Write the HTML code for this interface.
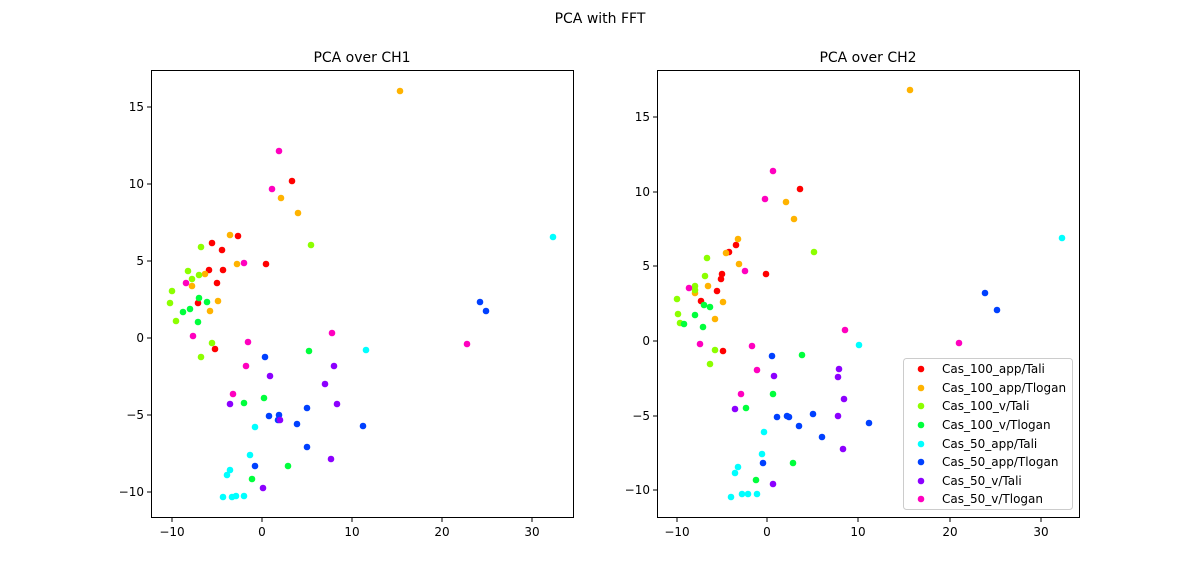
<!DOCTYPE html>
<html><head><meta charset="utf-8"><style>body{margin:0;background:#fff}svg{display:block;font-family:"DejaVu Sans","Liberation Sans",sans-serif}</style></head><body>
<svg width="1200" height="582" viewBox="0 0 1200 582" xmlns="http://www.w3.org/2000/svg">
<rect width="1200" height="582" fill="#fff"/>
<text x="600" y="23" font-size="14" text-anchor="middle">PCA with FFT</text>
<text x="362" y="62" font-size="14" text-anchor="middle">PCA over CH1</text>
<text x="868" y="62" font-size="14" text-anchor="middle">PCA over CH2</text>
<g fill="none" stroke="#000" stroke-width="1">
<rect x="151.5" y="70.5" width="422" height="447"/>
<rect x="657.5" y="70.5" width="422" height="447"/>
<path d="M172 518v4M262 518v4M352 518v4M442 518v4M532 518v4M151 107h-4M151 184h-4M151 261h-4M151 338h-4M151 415h-4M151 492h-4"/>
<path d="M677 518v4M767 518v4M858 518v4M950 518v4M1041 518v4M657 117h-4M657 192h-4M657 266h-4M657 341h-4M657 416h-4M657 490h-4"/>
</g>
<g font-size="12" text-anchor="middle">
<text x="172" y="536">−10</text><text x="262" y="536">0</text><text x="352" y="536">10</text><text x="442" y="536">20</text><text x="532" y="536">30</text>
<text x="677" y="536">−10</text><text x="767" y="536">0</text><text x="858" y="536">10</text><text x="950" y="536">20</text><text x="1041" y="536">30</text>
</g>
<g font-size="12" text-anchor="end">
<text x="144" y="111">15</text><text x="144" y="188">10</text><text x="144" y="265">5</text><text x="144" y="342">0</text><text x="144" y="419">−5</text><text x="144" y="496">−10</text>
<text x="650" y="121">15</text><text x="650" y="196">10</text><text x="650" y="270">5</text><text x="650" y="345">0</text><text x="650" y="420">−5</text><text x="650" y="494">−10</text>
</g>
<g id="pts">
<g fill="#ff0000"><circle cx="292" cy="181" r="3.3"/><circle cx="238" cy="236" r="3.3"/><circle cx="212" cy="243" r="3.3"/><circle cx="222" cy="250" r="3.3"/><circle cx="266" cy="264" r="3.3"/><circle cx="209" cy="270" r="3.3"/><circle cx="223" cy="270" r="3.3"/><circle cx="217" cy="283" r="3.3"/><circle cx="198" cy="303" r="3.3"/><circle cx="215" cy="349" r="3.3"/>
<circle cx="800" cy="189" r="3.3"/><circle cx="736" cy="245" r="3.3"/><circle cx="729" cy="252" r="3.3"/><circle cx="722" cy="274" r="3.3"/><circle cx="721" cy="279" r="3.3"/><circle cx="766" cy="274" r="3.3"/><circle cx="717" cy="291" r="3.3"/><circle cx="701" cy="301" r="3.3"/><circle cx="723" cy="351" r="3.3"/></g>
<g fill="#ffb300"><circle cx="400" cy="91" r="3.3"/><circle cx="281" cy="198" r="3.3"/><circle cx="298" cy="213" r="3.3"/><circle cx="230" cy="235" r="3.3"/><circle cx="237" cy="264" r="3.3"/><circle cx="205" cy="274" r="3.3"/><circle cx="192" cy="286" r="3.3"/><circle cx="218" cy="301" r="3.3"/><circle cx="210" cy="311" r="3.3"/>
<circle cx="910" cy="90" r="3.3"/><circle cx="786" cy="202" r="3.3"/><circle cx="794" cy="219" r="3.3"/><circle cx="738" cy="239" r="3.3"/><circle cx="726" cy="253" r="3.3"/><circle cx="739" cy="264" r="3.3"/><circle cx="708" cy="286" r="3.3"/><circle cx="695" cy="293" r="3.3"/><circle cx="723" cy="302" r="3.3"/><circle cx="715" cy="319" r="3.3"/></g>
<g fill="#8cff00"><circle cx="201" cy="247" r="3.3"/><circle cx="311" cy="245" r="3.3"/><circle cx="188" cy="271" r="3.3"/><circle cx="192" cy="279" r="3.3"/><circle cx="199" cy="275" r="3.3"/><circle cx="172" cy="291" r="3.3"/><circle cx="170" cy="303" r="3.3"/><circle cx="176" cy="321" r="3.3"/><circle cx="212" cy="343" r="3.3"/><circle cx="201" cy="357" r="3.3"/>
<circle cx="707" cy="258" r="3.3"/><circle cx="814" cy="252" r="3.3"/><circle cx="705" cy="276" r="3.3"/><circle cx="695" cy="286" r="3.3"/><circle cx="695" cy="290" r="3.3"/><circle cx="677" cy="299" r="3.3"/><circle cx="678" cy="314" r="3.3"/><circle cx="680" cy="323" r="3.3"/><circle cx="715" cy="350" r="3.3"/><circle cx="710" cy="364" r="3.3"/></g>
<g fill="#00ff3c"><circle cx="199" cy="298" r="3.3"/><circle cx="207" cy="302" r="3.3"/><circle cx="183" cy="312" r="3.3"/><circle cx="190" cy="309" r="3.3"/><circle cx="198" cy="322" r="3.3"/><circle cx="309" cy="351" r="3.3"/><circle cx="264" cy="398" r="3.3"/><circle cx="244" cy="403" r="3.3"/><circle cx="252" cy="479" r="3.3"/><circle cx="288" cy="466" r="3.3"/>
<circle cx="704" cy="305" r="3.3"/><circle cx="710" cy="307" r="3.3"/><circle cx="695" cy="315" r="3.3"/><circle cx="684" cy="324" r="3.3"/><circle cx="703" cy="327" r="3.3"/><circle cx="802" cy="355" r="3.3"/><circle cx="773" cy="394" r="3.3"/><circle cx="746" cy="408" r="3.3"/><circle cx="756" cy="480" r="3.3"/><circle cx="793" cy="463" r="3.3"/></g>
<g fill="#00ffff"><circle cx="366" cy="350" r="3.3"/><circle cx="553" cy="237" r="3.3"/><circle cx="255" cy="427" r="3.3"/><circle cx="250" cy="455" r="3.3"/><circle cx="230" cy="470" r="3.3"/><circle cx="227" cy="475" r="3.3"/><circle cx="223" cy="497" r="3.3"/><circle cx="232" cy="497" r="3.3"/><circle cx="236" cy="496" r="3.3"/><circle cx="244" cy="496" r="3.3"/>
<circle cx="1062" cy="238" r="3.3"/><circle cx="859" cy="345" r="3.3"/><circle cx="764" cy="432" r="3.3"/><circle cx="762" cy="454" r="3.3"/><circle cx="738" cy="467" r="3.3"/><circle cx="735" cy="473" r="3.3"/><circle cx="731" cy="497" r="3.3"/><circle cx="742" cy="494" r="3.3"/><circle cx="748" cy="494" r="3.3"/><circle cx="757" cy="494" r="3.3"/></g>
<g fill="#0040ff"><circle cx="480" cy="302" r="3.3"/><circle cx="486" cy="311" r="3.3"/><circle cx="265" cy="357" r="3.3"/><circle cx="269" cy="416" r="3.3"/><circle cx="279" cy="415" r="3.3"/><circle cx="278" cy="420" r="3.3"/><circle cx="297" cy="424" r="3.3"/><circle cx="307" cy="408" r="3.3"/><circle cx="307" cy="447" r="3.3"/><circle cx="363" cy="426" r="3.3"/><circle cx="255" cy="466" r="3.3"/>
<circle cx="985" cy="293" r="3.3"/><circle cx="997" cy="310" r="3.3"/><circle cx="772" cy="356" r="3.3"/><circle cx="777" cy="417" r="3.3"/><circle cx="787" cy="416" r="3.3"/><circle cx="789" cy="417" r="3.3"/><circle cx="799" cy="426" r="3.3"/><circle cx="813" cy="414" r="3.3"/><circle cx="822" cy="437" r="3.3"/><circle cx="869" cy="423" r="3.3"/><circle cx="763" cy="463" r="3.3"/></g>
<g fill="#8c00ff"><circle cx="334" cy="366" r="3.3"/><circle cx="270" cy="376" r="3.3"/><circle cx="325" cy="384" r="3.3"/><circle cx="337" cy="404" r="3.3"/><circle cx="280" cy="420" r="3.3"/><circle cx="230" cy="404" r="3.3"/><circle cx="331" cy="459" r="3.3"/><circle cx="263" cy="488" r="3.3"/>
<circle cx="838" cy="377" r="3.3"/><circle cx="774" cy="376" r="3.3"/><circle cx="839" cy="369" r="3.3"/><circle cx="844" cy="399" r="3.3"/><circle cx="838" cy="416" r="3.3"/><circle cx="735" cy="409" r="3.3"/><circle cx="843" cy="449" r="3.3"/><circle cx="773" cy="484" r="3.3"/></g>
<g fill="#ff00bf"><circle cx="279" cy="151" r="3.3"/><circle cx="272" cy="189" r="3.3"/><circle cx="244" cy="263" r="3.3"/><circle cx="186" cy="283" r="3.3"/><circle cx="193" cy="336" r="3.3"/><circle cx="248" cy="342" r="3.3"/><circle cx="246" cy="366" r="3.3"/><circle cx="233" cy="394" r="3.3"/><circle cx="332" cy="333" r="3.3"/><circle cx="467" cy="344" r="3.3"/>
<circle cx="773" cy="171" r="3.3"/><circle cx="765" cy="199" r="3.3"/><circle cx="745" cy="271" r="3.3"/><circle cx="689" cy="288" r="3.3"/><circle cx="700" cy="344" r="3.3"/><circle cx="752" cy="346" r="3.3"/><circle cx="757" cy="370" r="3.3"/><circle cx="741" cy="394" r="3.3"/><circle cx="845" cy="330" r="3.3"/><circle cx="959" cy="343" r="3.3"/></g>
</g>
<rect x="903.5" y="358.5" width="169" height="151" rx="3" fill="#fff" fill-opacity="0.8" stroke="#ccc"/>
<g font-size="12">
<circle cx="921" cy="369" r="3.3" fill="#ff0000"/><text x="942" y="373">Cas_100_app/Tali</text>
<circle cx="921" cy="388" r="3.3" fill="#ffb300"/><text x="942" y="392">Cas_100_app/Tlogan</text>
<circle cx="921" cy="406" r="3.3" fill="#8cff00"/><text x="942" y="410">Cas_100_v/Tali</text>
<circle cx="921" cy="425" r="3.3" fill="#00ff3c"/><text x="942" y="429">Cas_100_v/Tlogan</text>
<circle cx="921" cy="444" r="3.3" fill="#00ffff"/><text x="942" y="448">Cas_50_app/Tali</text>
<circle cx="921" cy="462" r="3.3" fill="#0040ff"/><text x="942" y="466">Cas_50_app/Tlogan</text>
<circle cx="921" cy="481" r="3.3" fill="#8c00ff"/><text x="942" y="485">Cas_50_v/Tali</text>
<circle cx="921" cy="499" r="3.3" fill="#ff00bf"/><text x="942" y="503">Cas_50_v/Tlogan</text>
</g>
</svg>
</body></html>
